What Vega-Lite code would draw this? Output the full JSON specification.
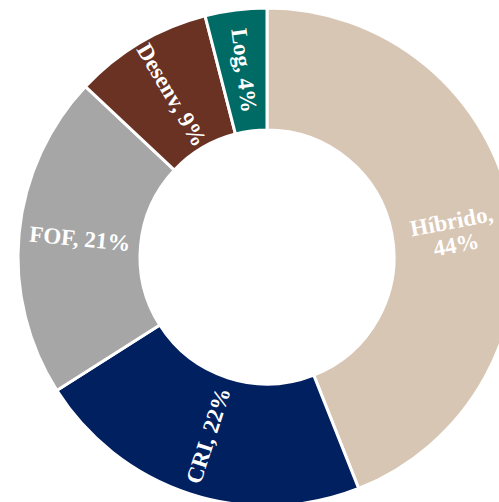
{
  "$schema": "https://vega.github.io/schema/vega-lite/v6.json",
  "width": 464,
  "height": 490,
  "padding": {"left": 35, "top": 12, "right": 0, "bottom": 0},
  "autosize": {"type": "none"},
  "background": "white",
  "config": {"view": {"stroke": null}},
  "data": {
    "values": [
      {"cat": "Híbrido", "pct": 44, "ordem": 1},
      {"cat": "CRI", "pct": 22, "ordem": 2},
      {"cat": "FOF", "pct": 21, "ordem": 3},
      {"cat": "Desenv", "pct": 9, "ordem": 4},
      {"cat": "Log", "pct": 4, "ordem": 5}
    ]
  },
  "encoding": {
    "theta": {"field": "pct", "type": "quantitative", "stack": true},
    "order": {"field": "ordem", "type": "quantitative"}
  },
  "layer": [
    {
      "mark": {"type": "arc", "outerRadius": 249, "innerRadius": 127, "stroke": "white", "strokeWidth": 3},
      "encoding": {
        "color": {
          "field": "cat",
          "type": "nominal",
          "scale": {
            "domain": ["Híbrido", "CRI", "FOF", "Desenv", "Log"],
            "range": ["#D8C6B4", "#00205F", "#A6A6A6", "#6A3223", "#006A64"]
          },
          "legend": null
        }
      }
    },
    {
      "transform": [
        {"window": [{"op": "sum", "field": "pct", "as": "cum"}], "sort": [{"field": "ordem"}], "frame": [null, 0]},
        {"calculate": "(datum.cum - datum.pct / 2) / 100 * 360", "as": "mid"},
        {"calculate": "datum.mid < 180 ? datum.mid - 90 : datum.mid - 270", "as": "rot"},
        {"calculate": "datum.cat + (datum.cat == 'Híbrido' ? ',\\n' : ', ') + datum.pct + '%'", "as": "label"}
      ],
      "mark": {
        "type": "text",
        "radius": 188,
        "font": "Liberation Serif",
        "fontWeight": "bold",
        "fontSize": 23,
        "color": "white",
        "align": "center",
        "baseline": "middle",
        "lineBreak": "\n",
        "lineHeight": 24
      },
      "encoding": {
        "text": {"field": "label", "type": "nominal"},
        "angle": {"field": "rot", "type": "quantitative", "scale": null}
      }
    }
  ]
}
